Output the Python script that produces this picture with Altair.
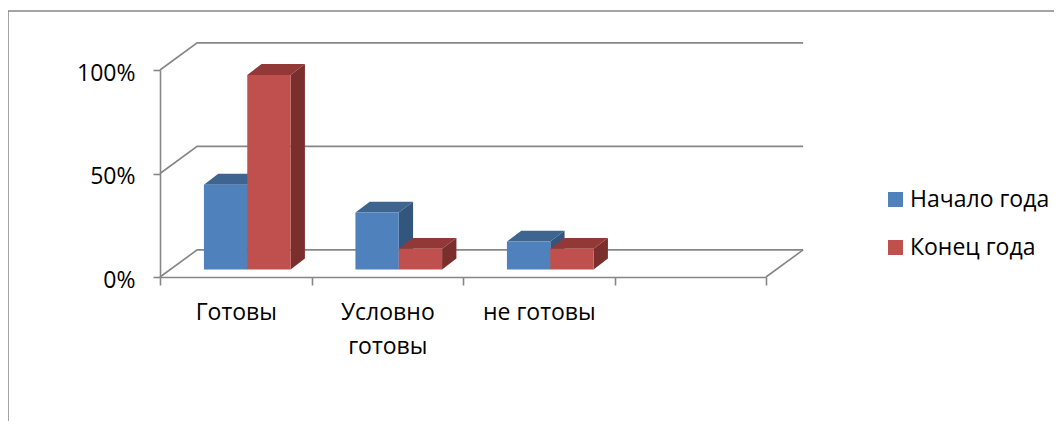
import json
import altair as alt
import pandas as pd

categories = ["Готовы", "Условно\nготовы", "не готовы"]
series = ["Начало года", "Конец года"]
start_values = [41, 27.5, 13.5]
end_values = [94, 10, 10]
y_ticks = [0, 50, 100]

FONT = "Open Sans"
FS = 23
GREY = "#868686"
front = {"Начало года": "#4F81BD", "Конец года": "#C0504D"}
top = {"Начало года": "#3E6590", "Конец года": "#923937"}
side = {"Начало года": "#34557E", "Конец года": "#7B2F2D"}

# projection constants, in category units and percent units
GAP, W = 0.29, 0.286
BAR_DX, BAR_DY = 0.0945, 5.3
BASE = 3.6
WALL_DX, WALL_DY = 0.245, 13.1
XD = [0, 4]
YD = [0, 100]
x_scale = alt.Scale(domain=XD, nice=False, zero=False)
y_scale = alt.Scale(domain=YD, nice=False, zero=False)

rows_top, rows_side, rows_front = [], [], []
for s, vals in zip(series, [start_values, end_values]):
    k = series.index(s)
    for i, v in enumerate(vals):
        x0 = i + GAP + k * W
        x1 = x0 + W
        yt = BASE + v
        g = f"{s}{i}"
        for x, y, y2 in [(x0, yt, yt), (x0 + BAR_DX, yt + BAR_DY, yt),
                         (x1, yt + BAR_DY, yt), (x1 + BAR_DX, yt + BAR_DY, yt + BAR_DY)]:
            rows_top.append(dict(s=s, g=g, x=x, y=y, y2=y2))
        for x, y, y2 in [(x1, yt, BASE), (x1 + BAR_DX, yt + BAR_DY, BASE + BAR_DY)]:
            rows_side.append(dict(s=s, g=g, x=x, y=y, y2=y2))
        rows_front.append(dict(s=s, x=x0, x2=x1, y=yt, y2=BASE))
d_top, d_side, d_front = map(pd.DataFrame, (rows_top, rows_side, rows_front))

# wall / floor frame
wall = []
for v in y_ticks:
    wall += [dict(g=f"w{v}", o=0, x=0, y=v),
             dict(g=f"w{v}", o=1, x=WALL_DX, y=v + WALL_DY),
             dict(g=f"w{v}", o=2, x=XD[1] + WALL_DX, y=v + WALL_DY)]
wall += [dict(g="f", o=0, x=XD[1], y=0), dict(g="f", o=1, x=XD[1] + WALL_DX, y=WALL_DY)]
d_wall = pd.DataFrame(wall)

X = alt.X("x:Q", scale=x_scale, title=None,
          axis=alt.Axis(values=list(range(5)), grid=False,
                        domainColor=GREY, domainWidth=1.6, tickColor=GREY, tickWidth=1.6, tickSize=8,
                        labelExpr=json.dumps([c.split("\n") for c in categories] + ["", ""]) + "[datum.value]",
                        labelOffset=75.8, labelPadding=16, labelFont=FONT, labelFontSize=FS,
                        labelColor="#000000", labelLineHeight=34.5, labelFlush=False, labelOverlap=False,
                        labelBaseline="top", labelAlign="center"))
Y = alt.Y("y:Q", scale=y_scale, title=None, stack=None,
          axis=alt.Axis(values=y_ticks, grid=False, labelExpr="datum.value + '%'",
                        domainColor=GREY, domainWidth=1.6, tickColor=GREY, tickWidth=1.6, tickSize=7,
                        labelPadding=18, labelOffset=3, labelFont=FONT, labelFontSize=FS, labelColor="#000000"))
Xn = alt.X("x:Q", scale=x_scale, title=None)
Yn = alt.Y("y:Q", scale=y_scale, title=None, stack=None)

frame = alt.Chart(d_wall).mark_line(color=GREY, strokeWidth=1.6, clip=False).encode(
    x=X, y=Y, detail="g:N", order="o:Q")

layers = [frame]
color = alt.Color("s:N", title=None,
                  scale=alt.Scale(domain=series, range=[front[s] for s in series]),
                  legend=alt.Legend(orient="none", legendX=724, legendY=118, symbolType="square",
                                    symbolSize=225, symbolStrokeWidth=0, symbolOpacity=1,
                                    labelFont=FONT, labelFontSize=FS, labelColor="#000000",
                                    labelOffset=3, rowPadding=24, labelLimit=200,
                                    padding=0))
for s in series:
    t = d_top[d_top.s == s]
    sd = d_side[d_side.s == s]
    f = d_front[d_front.s == s]
    layers.append(alt.Chart(t).mark_area(color=top[s], opacity=1, line=False).encode(
        x=Xn, y=Yn, y2="y2:Q", detail="g:N"))
    layers.append(alt.Chart(sd).mark_area(color=side[s], opacity=1, line=False).encode(
        x=Xn, y=Yn, y2="y2:Q", detail="g:N"))
    layers.append(alt.Chart(f).mark_rect(opacity=1).encode(
        x=Xn, x2="x2:Q", y=alt.Y("y:Q", scale=y_scale, title=None), y2="y2:Q", color=color))

# outer chart frame, clipped by the page edge
one = alt.Data(values=[{}])
layers.append(alt.Chart(one).mark_rule(color=GREY, strokeWidth=1.5).encode(
    x=alt.value(-152), y=alt.value(-59), y2=alt.value(355)))
layers.append(alt.Chart(one).mark_rule(color=GREY, strokeWidth=1.5).encode(
    x=alt.value(-152), x2=alt.value(900), y=alt.value(-59)))

chart = alt.layer(*layers).properties(
    width=606, height=207,
    padding={"left": 152, "top": 62, "right": 288, "bottom": 144},
    autosize=alt.AutoSizeParams(type="none"),
    background="#ffffff",
).configure_view(stroke=None)

chart.save("out.html", embed_options={"renderer": "svg", "actions": False})
